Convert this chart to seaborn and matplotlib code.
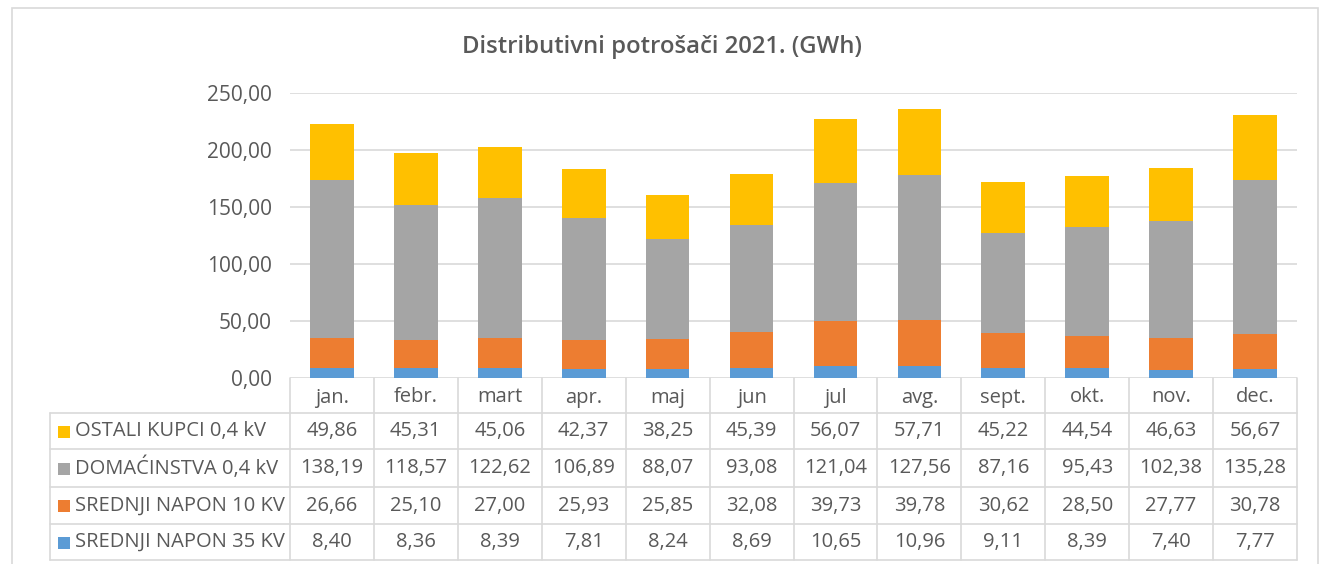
import matplotlib
matplotlib.use("Agg")
import matplotlib.pyplot as plt
import matplotlib.transforms as mtransforms
from matplotlib.patches import Rectangle
from matplotlib.lines import Line2D
import seaborn as sns
import pandas as pd
import numpy as np

months = ["jan.", "febr.", "mart", "apr.", "maj", "jun", "jul", "avg.", "sept.", "okt.", "nov.", "dec."]
sn35 = [8.40, 8.36, 8.39, 7.81, 8.24, 8.69, 10.65, 10.96, 9.11, 8.39, 7.40, 7.77]
sn10 = [26.66, 25.10, 27.00, 25.93, 25.85, 32.08, 39.73, 39.78, 30.62, 28.50, 27.77, 30.78]
domacinstva = [138.19, 118.57, 122.62, 106.89, 88.07, 93.08, 121.04, 127.56, 87.16, 95.43, 102.38, 135.28]
ostali = [49.86, 45.31, 45.06, 42.37, 38.25, 45.39, 56.07, 57.71, 45.22, 44.54, 46.63, 56.67]

series_names = ["SREDNJI NAPON 35 KV", "SREDNJI NAPON 10 KV", "DOMAĆINSTVA 0,4 kV", "OSTALI KUPCI 0,4 kV"]
series_vals = [sn35, sn10, domacinstva, ostali]
colors = ["#5B9BD5", "#ED7D31", "#A5A5A5", "#FFC000"]
title = "Distributivni potrošači 2021. (GWh)"
yticks = [0, 50, 100, 150, 200, 250]

sns.set_theme(style="white")
plt.rcParams["font.family"] = ["Open Sans", "DejaVu Sans"]
txt_color = "#595959"
line_color = "#D9D9D9"

W, H = 1325, 564
fig = plt.figure(figsize=(W / 100, H / 100), dpi=100)
fig.patch.set_facecolor("white")

def fy(p):
    return 1 - p / H

def fx(p):
    return p / W

ax = fig.add_axes([fx(290), fy(378), fx(1297) - fx(290), fy(93) - fy(378)])

# outer chart frame
fig.add_artist(Rectangle((fx(12), fy(600)), fx(1318) - fx(12), fy(8) - fy(600),
                         transform=fig.transFigure, fill=False, edgecolor=line_color, lw=1.2))

cum = np.cumsum(np.array(series_vals), axis=0)
# draw from the top layer downward so lower layers overlay
for i in range(len(series_vals) - 1, -1, -1):
    d = pd.DataFrame({"month": months, "val": cum[i]})
    sns.barplot(data=d, x="month", y="val", order=months, color=colors[i],
                width=0.52, saturation=1, ax=ax, zorder=3, linewidth=0)

ax.set_xlim(-0.5, len(months) - 0.5)
ax.set_ylim(0, 250)
ax.set_yticks(yticks)
ax.set_yticklabels([f"{v:.2f}".replace(".", ",") for v in yticks], fontsize=15, color=txt_color)
ax.tick_params(axis="y", length=0, pad=13)
ax.set_xticks([])
ax.set_xlabel("")
ax.set_ylabel("")
for s in ax.spines.values():
    s.set_visible(False)
for v in yticks:
    ax.axhline(v, color=line_color, lw=1.2, zorder=1)

fig.text(0.5, fy(47), title, ha="center", va="center", fontsize=17.2, color=txt_color, fontweight="semibold")

# data table
tr = mtransforms.blended_transform_factory(ax.transData, fig.transFigure)
row_edges = [378, 413, 449, 487, 524, 560]
n = len(months)
for k in range(n + 1):
    fig.add_artist(Line2D([k - 0.5, k - 0.5], [fy(378), fy(560)], transform=tr, color=line_color, lw=1.2))
for yy in row_edges[1:]:
    fig.add_artist(Line2D([fx(50), fx(1297)], [fy(yy), fy(yy)], transform=fig.transFigure, color=line_color, lw=1.2))
fig.add_artist(Line2D([fx(50), fx(50)], [fy(413), fy(560)], transform=fig.transFigure, color=line_color, lw=1.2))

fs = 14.5
for j, m in enumerate(months):
    fig.text(j, fy((row_edges[0] + row_edges[1]) / 2 + 2), m, transform=tr, ha="center", va="center",
             fontsize=fs, color=txt_color)

table_order = [3, 2, 1, 0]
for r, si in enumerate(table_order):
    yc = fy((row_edges[r + 1] + row_edges[r + 2]) / 2)
    fig.add_artist(Rectangle((fx(58), yc - 6.5 / H), 12 / W, 12 / H, transform=fig.transFigure,
                             facecolor=colors[si], edgecolor="none"))
    fig.text(fx(75), yc, series_names[si], ha="left", va="center", fontsize=fs, color=txt_color)
    for j, v in enumerate(series_vals[si]):
        fig.text(j, yc, f"{v:.2f}".replace(".", ","), transform=tr, ha="center", va="center",
                 fontsize=fs, color=txt_color)

fig.savefig("out.png", dpi=100)
